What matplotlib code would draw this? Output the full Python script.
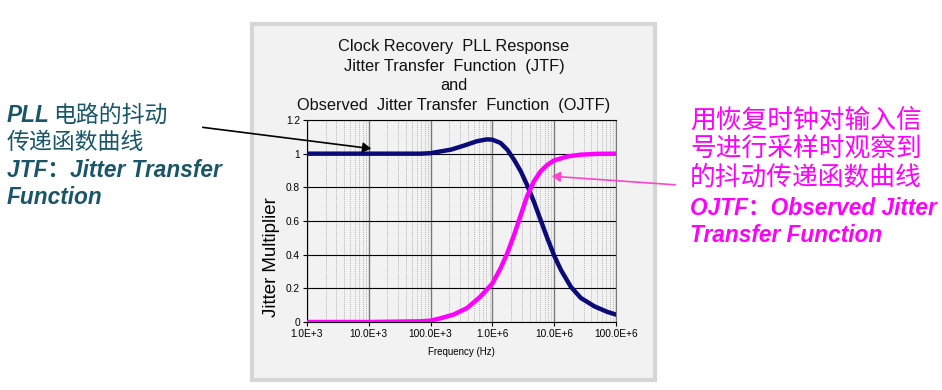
import matplotlib
matplotlib.use("Agg")
import matplotlib.pyplot as plt
from matplotlib.patches import Rectangle, FancyArrowPatch
from matplotlib.ticker import LogLocator, FixedLocator, FixedFormatter, NullFormatter

# ---- data ----
freq_jtf = [1e3, 1e4, 6.92e4, 1e5, 2.14e5, 3.47e5, 5.62e5, 8.13e5, 1e6, 1.35e6,
            1.74e6, 2.24e6, 2.88e6, 3.63e6, 4.68e6, 6.03e6, 7.76e6, 1e7, 1.29e7,
            1.86e7, 2.69e7, 4.47e7, 7.24e7, 1e8]
jtf = [1.0, 1.0, 1.0, 1.003, 1.024, 1.048, 1.074, 1.085, 1.083, 1.064,
       1.024, 0.964, 0.895, 0.815, 0.716, 0.606, 0.497, 0.394, 0.308,
       0.209, 0.143, 0.093, 0.060, 0.044]

freq_ojtf = [1e3, 1e4, 6.92e4, 1e5, 1.45e5, 2.34e5, 3.89e5, 6.31e5, 1e6, 1.35e6,
             1.74e6, 2.24e6, 2.88e6, 3.63e6, 4.68e6, 6.03e6, 7.76e6, 1e7,
             1.66e7, 2.69e7, 5e7, 1e8]
ojtf = [0.0, 0.0, 0.004, 0.008, 0.022, 0.044, 0.083, 0.149, 0.229, 0.318,
        0.408, 0.517, 0.636, 0.746, 0.835, 0.895, 0.934, 0.960,
        0.984, 0.994, 0.999, 1.0]

x_ticks = [1e3, 1e4, 1e5, 1e6, 1e7, 1e8]
x_tick_labels = ["1.0E+3", "10.0E+3", "100.0E+3", "1.0E+6", "10.0E+6", "100.0E+6"]
y_ticks = [0, 0.2, 0.4, 0.6, 0.8, 1.0, 1.2]
y_tick_labels = ["0", "0.2", "0.4", "0.6", "0.8", "1", "1.2"]

title_lines = ["Clock Recovery  PLL Response",
               "Jitter Transfer  Function  (JTF)",
               "and",
               "Observed  Jitter Transfer  Function  (OJTF)"]

W, H = 942, 390
fig = plt.figure(figsize=(W / 100, H / 100), dpi=100)
fig.patch.set_facecolor("white")

def fx(px):
    return px / W

def fy(py):
    return 1 - py / H

# panel
fig.patches.append(Rectangle((fx(252), fy(380)), fx(655) - fx(252), fy(24) - fy(380),
                             transform=fig.transFigure, facecolor="#f2f2f2",
                             edgecolor="#d6d6d6", linewidth=3, zorder=-5))

ax = fig.add_axes([fx(307), fy(322), fx(616) - fx(307), fy(120) - fy(322)])
ax.set_zorder(2)
ax.set_facecolor("#f2f2f2")
ax.set_xscale("log")
ax.set_xlim(1e3, 1e8)
ax.set_ylim(0, 1.2)

ax.xaxis.set_major_locator(FixedLocator(x_ticks))
ax.xaxis.set_major_formatter(FixedFormatter(x_tick_labels))
ax.xaxis.set_minor_locator(LogLocator(base=10, subs=range(2, 10), numticks=20))
ax.xaxis.set_minor_formatter(NullFormatter())
ax.yaxis.set_major_locator(FixedLocator(y_ticks))
ax.yaxis.set_major_formatter(FixedFormatter(y_tick_labels))

ax.grid(which="minor", axis="x", color="#b8b8b8", linestyle=(0, (1, 1)), linewidth=0.7)
ax.grid(which="major", axis="x", color="#7a7a7a", linestyle="-", linewidth=1.0)
ax.grid(which="major", axis="y", color="black", linestyle="-", linewidth=0.8)
ax.set_axisbelow(True)

ax.spines["top"].set_color("black")
ax.spines["top"].set_linewidth(0.8)
ax.spines["right"].set_color("#7a7a7a")
ax.spines["left"].set_color("black")
ax.spines["bottom"].set_color("black")

ax.tick_params(axis="both", which="major", labelsize=7.3, length=3, width=0.8,
               direction="out", pad=2)
ax.tick_params(axis="x", which="minor", length=0)
for lab in ax.get_xticklabels() + ax.get_yticklabels():
    lab.set_family("Liberation Sans")

ax.plot(freq_jtf, jtf, color="#0b0b78", linewidth=3.2, solid_joinstyle="round", zorder=3)
ax.plot(freq_ojtf, ojtf, color="#ff00ff", linewidth=3.2, solid_joinstyle="round", zorder=3)

ax.set_xlabel("Frequency (Hz)", fontsize=7, family="Liberation Sans", labelpad=6)
ax.set_ylabel("Jitter Multiplier", fontsize=13.4, family="Liberation Sans", labelpad=4)
ax.yaxis.set_label_coords(-0.088, 0.32)

# title
for i, t in enumerate(title_lines):
    fig.text(fx(454), fy(47 + i * 19.5), t, ha="center", va="center",
             fontsize=11.8, family="Liberation Sans", color="#111111")

# left annotation
teal = "#1a5568"
cjk = ["Liberation Sans", "Noto Sans CJK SC"]
fig.text(fx(7), fy(115), "PLL", ha="left", va="center", fontsize=16.3,
         family=cjk, fontweight="bold", fontstyle="italic", color=teal)
fig.text(fx(53), fy(115), "电路的抖动", ha="left", va="center", fontsize=16.5,
         family=["Noto Sans CJK SC"], color=teal)
fig.text(fx(7), fy(142), "传递函数曲线", ha="left", va="center", fontsize=16.5,
         family=["Noto Sans CJK SC"], color=teal)
fig.text(fx(7), fy(170), "JTF：Jitter Transfer", ha="left", va="center", fontsize=16.3,
         family=cjk, fontweight="bold", fontstyle="italic", color=teal)
fig.text(fx(7), fy(197), "Function", ha="left", va="center", fontsize=16.3,
         family=cjk, fontweight="bold", fontstyle="italic", color=teal)

# right annotation
mag = "#ff00ff"
for i, t in enumerate(["用恢复时钟对输入信", "号进行采样时观察到", "的抖动传递函数曲线"]):
    fig.text(fx(690), fy(121 + i * 28.5), t, ha="left", va="center", fontsize=18.5,
             family=["Noto Sans CJK SC"], color=mag)
fig.text(fx(690), fy(208), "OJTF：Observed Jitter", ha="left", va="center", fontsize=16.3,
         family=cjk, fontweight="bold", fontstyle="italic", color=mag)
fig.text(fx(690), fy(236), "Transfer Function", ha="left", va="center", fontsize=16.3,
         family=cjk, fontweight="bold", fontstyle="italic", color=mag)

# arrows
fig.add_artist(FancyArrowPatch(
    (fx(200), fy(127)), (fx(374), fy(149)), transform=fig.transFigure,
    arrowstyle="-|>,head_length=5,head_width=3", color="black", linewidth=1.2,
    mutation_scale=1, zorder=5))
fig.add_artist(FancyArrowPatch(
    (fx(678), fy(185)), (fx(549), fy(176)), transform=fig.transFigure,
    arrowstyle="-|>,head_length=5,head_width=3", color="#ff44cc", linewidth=1.2,
    mutation_scale=1, zorder=5))

fig.savefig("out.png", dpi=100, facecolor="white")
